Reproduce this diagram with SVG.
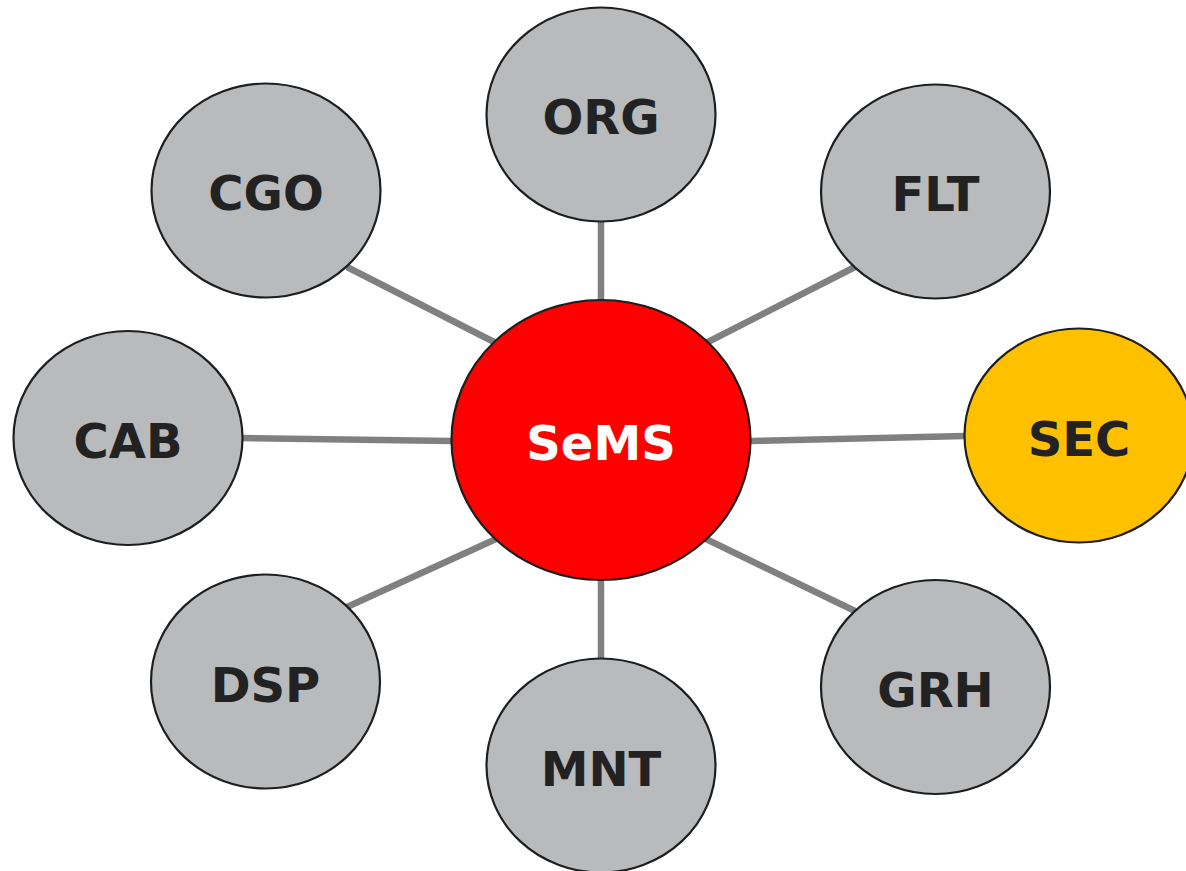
<svg xmlns="http://www.w3.org/2000/svg" width="1186" height="871" viewBox="0 0 1186 871">
<style>
.link{stroke:#808080;stroke-width:6.5;fill:none}
.node{fill:#b9babc;stroke:#1e1e1e;stroke-width:2.2}
.lbl{font-family:"DejaVu Sans","Liberation Sans",sans-serif;font-weight:bold;font-size:48px;fill:#222222;text-anchor:middle}
</style>
<rect width="1186" height="871" fill="#ffffff"/>
<g id="connectors">
<line class="link" x1="601" y1="221" x2="601" y2="301"/>
<line class="link" x1="601" y1="579" x2="601" y2="659"/>
<line class="link" x1="243" y1="438" x2="452" y2="441"/>
<line class="link" x1="750" y1="441" x2="965" y2="436"/>
<line class="link" x1="347" y1="267" x2="496" y2="343"/>
<line class="link" x1="855" y1="267" x2="706" y2="343"/>
<line class="link" x1="347" y1="607" x2="496" y2="539"/>
<line class="link" x1="855" y1="611" x2="706" y2="539"/>
</g>
<g id="ORG"><ellipse class="node" cx="601" cy="114.5" rx="114.5" ry="107"/><text class="lbl" x="601" y="134">ORG</text></g>
<g id="CGO"><ellipse class="node" cx="266" cy="190.5" rx="114.5" ry="107"/><text class="lbl" x="266" y="210">CGO</text></g>
<g id="FLT"><ellipse class="node" cx="935.5" cy="191.5" rx="114.5" ry="107"/><text class="lbl" x="935.5" y="211">FLT</text></g>
<g id="CAB"><ellipse class="node" cx="128" cy="438" rx="114.5" ry="107"/><text class="lbl" x="128" y="458">CAB</text></g>
<g id="SEC"><ellipse cx="1079" cy="435.5" rx="114.5" ry="107" fill="#ffc000" stroke="#1e1e1e" stroke-width="2.2"/><text class="lbl" x="1079" y="456">SEC</text></g>
<g id="DSP"><ellipse class="node" cx="265.5" cy="681.5" rx="114.5" ry="107"/><text class="lbl" x="265.5" y="702">DSP</text></g>
<g id="MNT"><ellipse class="node" cx="601" cy="765.5" rx="114.5" ry="107"/><text class="lbl" x="601" y="786">MNT</text></g>
<g id="GRH"><ellipse class="node" cx="935.5" cy="687" rx="114.5" ry="107"/><text class="lbl" x="935.5" y="707">GRH</text></g>
<g id="SeMS"><ellipse cx="601" cy="440" rx="149.5" ry="140" fill="#ff0000" stroke="#1e1e1e" stroke-width="2.2"/><text class="lbl" x="601" y="460" style="fill:#ffffff">SeMS</text></g>
</svg>
